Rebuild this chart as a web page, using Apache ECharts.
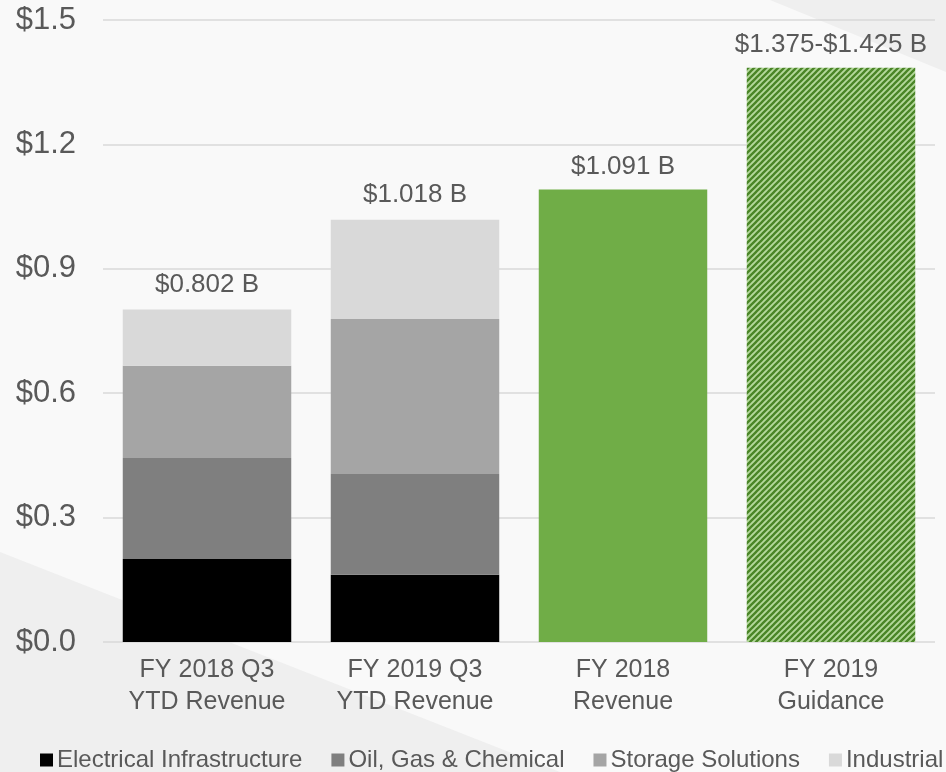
<!DOCTYPE html>
<html>
<head>
<meta charset="utf-8">
<script src="https://cdn.jsdelivr.net/npm/echarts@6/dist/echarts.min.js"></script>
<style>
  html, body { margin: 0; padding: 0; background: #f9f9f9; }
  #chart { width: 946px; height: 772px; }
</style>
</head>
<body>
<div id="chart"></div>
<script>
// data (USD billions)
const categories = ['FY 2018 Q3\nYTD Revenue', 'FY 2019 Q3\nYTD Revenue', 'FY 2018\nRevenue', 'FY 2019\nGuidance'];
const electrical = [0.200, 0.162, null, null];
const oilGas = [0.244, 0.243, null, null];
const storage = [0.222, 0.374, null, null];
const industrial = [0.136, 0.239, null, null];
const totals = [null, null, 1.091, 1.385];
const topLabels = ['$0.802 B', '$1.018 B', '$1.091 B', '$1.375-$1.425 B'];

const textColor = '#595959';
const font = 'Arial, "Liberation Sans", sans-serif';

// diagonal hatch for the guidance bar
function hatch() {
  const c = document.createElement('canvas');
  c.width = 6; c.height = 6;
  const ctx = c.getContext('2d');
  ctx.fillStyle = '#b4d89c';
  ctx.fillRect(0, 0, 6, 6);
  ctx.strokeStyle = '#4a8527';
  ctx.lineWidth = 2.3;
  ctx.beginPath();
  ctx.moveTo(-1, 7); ctx.lineTo(7, -1);
  ctx.moveTo(-4, 4); ctx.lineTo(4, -4);
  ctx.moveTo(2, 10); ctx.lineTo(10, 2);
  ctx.stroke();
  return c;
}

const chart = echarts.init(document.getElementById('chart'));

function stackSeries(name, data, color, withLabel) {
  return {
    name: name,
    type: 'bar',
    stack: 'rev',
    data: data,
    barCategoryGap: '19%',
    itemStyle: { color: color },
    label: withLabel ? {
      show: true,
      position: 'top',
      distance: 12,
      color: textColor,
      fontFamily: font,
      fontSize: 26,
      formatter: p => topLabels[p.dataIndex]
    } : { show: false },
    emphasis: { disabled: true }
  };
}

chart.setOption({
  backgroundColor: '#f9f9f9',
  animation: false,
  graphic: [
    { type: 'polygon', z: -10, silent: true,
      shape: { points: [[0, 552], [560, 772], [0, 772]] },
      style: { fill: '#efefef' } },
    { type: 'polygon', z: -10, silent: true,
      shape: { points: [[770, 0], [946, 0], [946, 72]] },
      style: { fill: '#efefef' } }
  ],
  grid: { left: 103, right: 11, top: 20, bottom: 130 },
  legend: {
    left: 35,
    top: 743,
    width: 940,
    itemWidth: 13,
    itemHeight: 13,
    itemGap: 29,
    icon: 'rect',
    data: ['Electrical Infrastructure', 'Oil, Gas & Chemical', 'Storage Solutions', 'Industrial'],
    textStyle: { color: textColor, fontFamily: font, fontSize: 24, padding: [0, 0, 0, -1] }
  },
  xAxis: {
    type: 'category',
    data: categories,
    axisLine: { show: false },
    axisTick: { show: false },
    axisLabel: {
      interval: 0, hideOverlap: false,
      color: textColor, fontFamily: font, fontSize: 25, lineHeight: 32, margin: 12
    }
  },
  yAxis: {
    type: 'value',
    min: 0,
    max: 1.5,
    interval: 0.3,
    axisLine: { show: false },
    axisTick: { show: false },
    splitLine: { lineStyle: { color: '#d9d9d9', width: 1.5 } },
    axisLabel: {
      color: textColor, fontFamily: font, fontSize: 31, margin: 27,
      formatter: v => '$' + v.toFixed(1)
    }
  },
  series: [
    stackSeries('Electrical Infrastructure', electrical, '#000000', false),
    stackSeries('Oil, Gas & Chemical', oilGas, '#7f7f7f', false),
    stackSeries('Storage Solutions', storage, '#a5a5a5', false),
    stackSeries('Industrial', industrial, '#d9d9d9', true),
    {
      name: 'Total',
      type: 'bar',
      stack: 'rev',
      barCategoryGap: '19%',
      data: totals.map((v, i) => v == null ? null : {
        value: v,
        itemStyle: { color: i === 3 ? { image: hatch(), repeat: 'repeat' } : '#70ad47' }
      }),
      label: {
        show: true,
        position: 'top',
        distance: 10,
        color: textColor,
        fontFamily: font,
        fontSize: 26,
        formatter: p => topLabels[p.dataIndex]
      },
      emphasis: { disabled: true }
    }
  ]
});
</script>
</body>
</html>
